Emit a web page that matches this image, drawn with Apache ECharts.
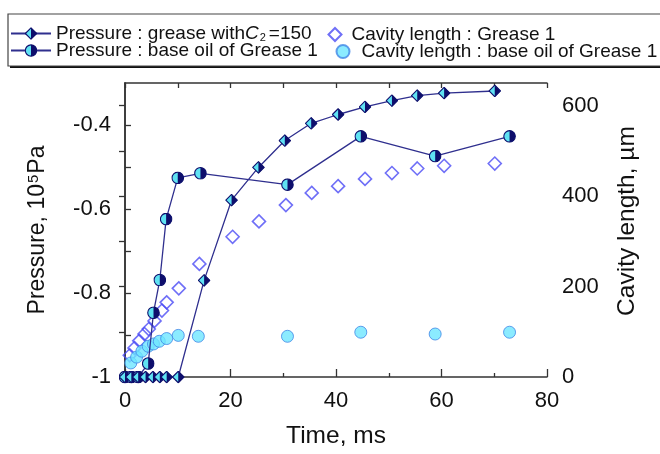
<!DOCTYPE html>
<html>
<head>
<meta charset="utf-8">
<script src="https://cdn.jsdelivr.net/npm/echarts@6/dist/echarts.min.js"></script>
<style>html,body{margin:0;padding:0;background:#fff}#c{width:660px;height:454px}</style>
</head>
<body>
<div id="c"></div>
<script>
// ---- data ----
const timePressureGrease = [0, 1.2, 2.5, 3.9, 5.3, 6.6, 7.9, 10.1, 15.0, 20.2, 25.3, 30.3, 35.3, 40.4, 45.5, 50.6, 55.4, 60.5, 70.1];
const pressureGrease = [-1, -1, -1, -1, -1, -1, -1, -1, -0.770, -0.579, -0.501, -0.437, -0.396, -0.375, -0.357, -0.342, -0.330, -0.324, -0.319];
const timePressureBase = [0, 1.2, 2.5, 4.4, 5.4, 6.6, 7.8, 10.0, 14.3, 30.8, 44.7, 58.8, 72.9];
const pressureBase = [-1, -1, -1, -0.968, -0.847, -0.769, -0.624, -0.526, -0.515, -0.542, -0.427, -0.474, -0.427];
const timeCavityGrease = [0.9, 1.8, 2.7, 3.7, 4.5, 5.6, 7.0, 7.9, 10.2, 14.1, 20.4, 25.4, 30.5, 35.4, 40.4, 45.5, 50.6, 55.4, 60.5, 70.1];
const cavityGrease = [48, 64, 80, 95, 106, 124, 147, 165, 196, 250, 310, 344, 380, 407, 422, 438, 451, 461, 467, 472];
const timeCavityBase = [1.1, 2.2, 3.2, 4.4, 5.4, 6.5, 7.9, 10.1, 13.9, 30.8, 44.7, 58.8, 72.9];
const cavityBase = [31, 44, 57, 68, 73, 79, 85, 92, 90, 90, 99, 95, 99];

const xTicks = [0, 20, 40, 60, 80];
const leftTickLabels = [-1, -0.8, -0.6, -0.4];
const rightTickLabels = [0, 200, 400, 600];

const names = {
  pg: 'Pressure : grease withC2=150',
  pb: 'Pressure : base oil of Grease 1',
  cg: 'Cavity length : Grease 1',
  cb: 'Cavity length : base oil of Grease 1'
};

// ---- styling ----
const NAVY = '#0e0e6c', CYAN = '#5fe2f2', LINE = '#2f2f8e';
const FONT = '"Liberation Sans", Arial, sans-serif';
function svgSym(inner) {
  return 'image://data:image/svg+xml;charset=utf-8,' + encodeURIComponent(
    '<svg xmlns="http://www.w3.org/2000/svg" width="26" height="26" viewBox="0 0 26 26">' + inner + '</svg>');
}
const halfDiamond = svgSym(
  '<path d="M13 1.5 L24.5 13 L13 24.5 L1.5 13 Z" fill="' + CYAN + '" stroke="' + NAVY + '" stroke-width="2.2" stroke-linejoin="round"/>' +
  '<path d="M13 1.5 L24.5 13 L13 24.5 Z" fill="' + NAVY + '"/>');
const halfCircle = svgSym(
  '<circle cx="13" cy="13" r="11.5" fill="' + CYAN + '" stroke="' + NAVY + '" stroke-width="2.2"/>' +
  '<path d="M13 1.5 A11.5 11.5 0 0 1 13 24.5 Z" fill="' + NAVY + '"/>');

const zip = (a, b) => a.map((v, i) => [v, b[i]]);
const inList = (list, v) => list.some(t => Math.abs(t - v) < 1e-6);

const chart = echarts.init(document.getElementById('c'));
const legendText = {
  fontSize: 19, color: '#111', fontFamily: FONT,
  rich: {
    i: { fontSize: 19, fontStyle: 'italic', fontFamily: FONT, color: '#111' },
    s: { fontSize: 11, fontFamily: FONT, color: '#111', verticalAlign: 'bottom', padding: [0, 3, 0, 1] }
  }
};
function legend(name, left, top, iw, ih, extra) {
  return Object.assign({
    data: [name], left: left, top: top, padding: 0, itemWidth: iw, itemHeight: ih,
    selectedMode: false, textStyle: legendText
  }, extra || {});
}

const axisLineStyle = { color: '#333', width: 1.5 };
const tickStyle = { color: '#333', width: 1.3 };

chart.setOption({
  animation: false,
  backgroundColor: '#fff',
  grid: { left: 125, right: 113, top: 83, bottom: 71 },
  graphic: [
    { type: 'rect', z: 0, shape: { x: 10, y: 16, width: 660, height: 52 }, style: { fill: '#111' } },
    { type: 'rect', z: 1, shape: { x: 8, y: 14, width: 660, height: 52 }, style: { fill: '#fff', stroke: '#444', lineWidth: 1.2 } }
  ],
  legend: [
    legend(names.pg, 10, 24, 40, 16, { formatter: () => 'Pressure : grease with{i|C}{s|2}=150' }),
    legend(names.cg, 327.5, 25, 13, 13, { textStyle: Object.assign({}, legendText, { padding: [0, 0, 0, 5] }) }),
    legend(names.pb, 10, 41, 40, 16),
    legend(names.cb, 335.5, 42, 13, 13, { textStyle: Object.assign({}, legendText, { padding: [0, 0, 0, 7] }) })
  ],
  xAxis: [
    {
      type: 'value', position: 'bottom', min: 0, max: 80, interval: 20,
      name: 'Time, ms', nameLocation: 'middle', nameGap: 47,
      nameTextStyle: { fontSize: 24.5, color: '#111', fontFamily: FONT },
      axisLine: { lineStyle: axisLineStyle },
      axisTick: { inside: true, length: 8, lineStyle: tickStyle },
      minorTick: { show: true, splitNumber: 2, length: 4, lineStyle: tickStyle },
      axisLabel: { fontSize: 22, color: '#111', fontFamily: FONT, margin: 13,
        formatter: v => inList(xTicks, v) ? String(v) : '' },
      splitLine: { show: false }
    },
    {
      type: 'value', position: 'top', min: 0, max: 80, interval: 10,
      axisLine: { lineStyle: axisLineStyle },
      axisTick: { inside: true, length: 5, lineStyle: tickStyle },
      axisLabel: { show: false }, splitLine: { show: false }
    }
  ],
  yAxis: [
    {
      type: 'value', position: 'left', min: -1, max: -0.3, interval: 0.1,
      name: '{a|Pressure, 10}{b|5}{a|Pa}', nameLocation: 'middle', nameGap: 76,
      nameTextStyle: { fontFamily: FONT, color: '#111',
        rich: { a: { fontSize: 23, fontFamily: FONT, color: '#111' },
                b: { fontSize: 15, fontFamily: FONT, color: '#111', verticalAlign: 'top', padding: [0, 1, 0, 1] } } },
      axisLine: { show: true, lineStyle: axisLineStyle },
      axisTick: { show: true, inside: true, length: 6, lineStyle: tickStyle },
      axisLabel: { fontSize: 22, color: '#111', fontFamily: FONT, margin: 14, showMaxLabel: false,
        formatter: v => inList(leftTickLabels, v) ? String(Math.round(v * 10) / 10) : '' },
      splitLine: { show: false }
    },
    {
      type: 'value', position: 'right', min: 0, max: 650, interval: 100,
      name: 'Cavity length, µm', nameLocation: 'middle', nameGap: 68,
      nameTextStyle: { fontSize: 24.5, color: '#111', fontFamily: FONT, padding: [0, 0, 0, 18] },
      axisLine: { show: true, lineStyle: axisLineStyle },
      axisTick: { show: true, inside: true, length: 6, lineStyle: tickStyle },
      axisLabel: { fontSize: 22, color: '#111', fontFamily: FONT, margin: 15, showMaxLabel: false,
        formatter: v => inList(rightTickLabels, v) ? String(v) : '' },
      splitLine: { show: false }
    }
  ],
  series: [
    {
      name: names.cg, type: 'scatter', xAxisIndex: 0, yAxisIndex: 1,
      data: zip(timeCavityGrease, cavityGrease),
      symbol: 'diamond', symbolSize: 13,
      itemStyle: { color: 'rgba(255,255,255,0)', borderColor: '#4b4bf5', borderWidth: 1.6 }
    },
    {
      name: names.cb, type: 'scatter', xAxisIndex: 0, yAxisIndex: 1,
      data: zip(timeCavityBase, cavityBase),
      symbol: 'circle', symbolSize: 12,
      itemStyle: { color: '#6ee6ff', borderColor: '#3f86e6', borderWidth: 1 }
    },
    {
      name: names.pb, type: 'line', xAxisIndex: 0, yAxisIndex: 0,
      data: zip(timePressureBase, pressureBase),
      symbol: halfCircle, symbolSize: 13, showAllSymbol: true,
      lineStyle: { color: LINE, width: 1.3 }, itemStyle: { color: LINE }
    },
    {
      name: names.pg, type: 'line', xAxisIndex: 0, yAxisIndex: 0,
      data: zip(timePressureGrease, pressureGrease),
      symbol: halfDiamond, symbolSize: 13, showAllSymbol: true,
      lineStyle: { color: LINE, width: 1.3 }, itemStyle: { color: LINE }
    }
  ]
});
</script>
</body>
</html>
